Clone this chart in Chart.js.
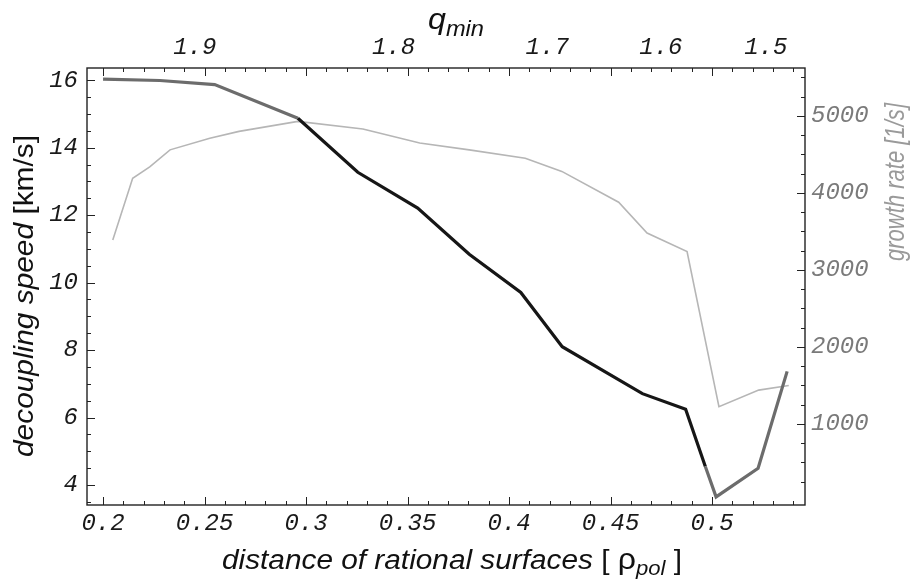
<!DOCTYPE html>
<html>
<head>
<meta charset="utf-8">
<script src="https://cdn.jsdelivr.net/npm/chart.js@4.4.0/dist/chart.umd.min.js"></script>
<style>
  body { margin: 0; background: #fff; }
  #wrap { width: 918px; height: 582px; position: relative; }
</style>
</head>
<body>
<div id="wrap"><canvas id="decouplingChart"></canvas></div>
<script>
// Data
const speedDistance = [0.2, 0.228, 0.255, 0.296, 0.3255, 0.355, 0.3804, 0.4058, 0.4262, 0.4657, 0.487, 0.4967, 0.502, 0.5227, 0.537];
const speedValues = [16.03, 15.99, 15.87, 14.87, 13.27, 12.21, 10.84, 9.71, 8.1, 6.71, 6.25, 4.55, 3.65, 4.5, 7.37];

const growthDistance = [0.2048, 0.2146, 0.223, 0.233, 0.2526, 0.267, 0.296, 0.328, 0.356, 0.3804, 0.408, 0.426, 0.454, 0.468, 0.4877, 0.5034, 0.523, 0.5378];
const growthValues = [3390, 4190, 4340, 4560, 4710, 4800, 4930, 4830, 4650, 4560, 4450, 4280, 3880, 3480, 3240, 1225, 1440, 1500];

const xTickValues = [0.2, 0.25, 0.3, 0.35, 0.4, 0.45, 0.5];
const xTickLabels = ['0.2', '0.25', '0.3', '0.35', '0.4', '0.45', '0.5'];
const speedTicks = [4, 6, 8, 10, 12, 14, 16];
const growthTicks = [1000, 2000, 3000, 4000, 5000];
const qTickPositions = [0.2452, 0.3431, 0.4188, 0.4748, 0.5265];
const qTickLabels = ['1.9', '1.8', '1.7', '1.6', '1.5'];

const tickFont = { family: "'Liberation Mono', 'DejaVu Sans Mono', monospace", size: 24, style: 'italic' };
const sansFamily = "'Liberation Sans', Arial, sans-serif";

// draw a row of text pieces, squeezed to a target width
function drawParts(ctx, parts, cx, cy, targetWidth, rotate) {
    ctx.save();
    let total = 0;
    parts.forEach(p => {
        ctx.font = p.font;
        p.w = ctx.measureText(p.text).width;
        total += p.w;
    });
    ctx.translate(cx, cy);
    if (rotate) ctx.rotate(-Math.PI / 2);
    ctx.scale(targetWidth / total, 1);
    ctx.textBaseline = 'alphabetic';
    ctx.textAlign = 'left';
    let x = -total / 2;
    parts.forEach(p => {
        ctx.font = p.font;
        ctx.fillStyle = p.color;
        ctx.fillText(p.text, x, p.dy || 0);
        x += p.w;
    });
    ctx.restore();
}

const frameTicks = {
    id: 'frameTicks',
    afterDatasetsDraw(chart) {
        const ctx = chart.ctx;
        const a = chart.chartArea;
        const sx = chart.scales.x, sy = chart.scales.y, sy2 = chart.scales.y2;
        ctx.save();
        ctx.strokeStyle = '#222';
        ctx.lineWidth = 1;
        ctx.beginPath();
        // bottom + top frame ticks
        for (let i = 0; i <= 34; i++) {
            const v = 0.2 + i * 0.01;
            if (v > sx.max) break;
            const len = i % 5 === 0 ? 8 : 4;
            const px = Math.round(sx.getPixelForValue(v)) + 0.5;
            ctx.moveTo(px, a.bottom); ctx.lineTo(px, a.bottom - len);
            ctx.moveTo(px, a.top); ctx.lineTo(px, a.top + len);
        }
        // left ticks
        for (let v = 3.5; v <= 16.01; v += 0.5) {
            const len = Math.abs(v % 2) < 0.01 ? 8 : 4;
            const py = Math.round(sy.getPixelForValue(v)) + 0.5;
            ctx.moveTo(a.left, py); ctx.lineTo(a.left + len, py);
        }
        // right ticks
        for (let v = 250; v <= 5500; v += 250) {
            const len = v % 1000 === 0 ? 8 : 4;
            const py = Math.round(sy2.getPixelForValue(v)) + 0.5;
            ctx.moveTo(a.right, py); ctx.lineTo(a.right - len, py);
        }
        ctx.stroke();
        ctx.lineWidth = 1.4;
        ctx.strokeRect(a.left, a.top, a.right - a.left, a.bottom - a.top);
        ctx.restore();
    },
    afterDraw(chart) {
        const ctx = chart.ctx;
        const it = 'italic 27px ' + sansFamily;
        const up = '27px ' + sansFamily;
        drawParts(ctx, [
            { text: 'decoupling speed ', font: it, color: '#111' },
            { text: '[km/s]', font: up, color: '#111' }
        ], 33, 296, 322, true);
        drawParts(ctx, [
            { text: 'growth rate [1/s]', font: it, color: '#9a9a9a' }
        ], 904, 182, 158, true);
        drawParts(ctx, [
            { text: 'distance of rational surfaces ', font: it, color: '#111' },
            { text: '[ ', font: up, color: '#111' },
            { text: 'ρ', font: '29px ' + sansFamily, color: '#111' },
            { text: 'pol', font: 'italic 20px ' + sansFamily, color: '#111', dy: 6 },
            { text: ' ]', font: up, color: '#111' }
        ], 452, 569, 460, false);
        drawParts(ctx, [
            { text: 'q', font: 'italic 30px ' + sansFamily, color: '#111' },
            { text: 'min', font: 'italic 22px ' + sansFamily, color: '#111', dy: 7 }
        ], 456, 29, 56, false);
    }
};

document.addEventListener('DOMContentLoaded', function() {
    initializeChart();
});

function initializeChart() {
    const ctx = document.getElementById('decouplingChart').getContext('2d');
    const xMin = 0.1921, xMax = 0.5458;

    new Chart(ctx, {
        type: 'line',
        data: {
            datasets: [{
                label: 'decoupling speed',
                data: speedDistance.map((x, i) => ({ x: x, y: speedValues[i] })),
                xAxisID: 'x',
                yAxisID: 'y',
                borderColor: '#161616',
                borderWidth: 3.2,
                pointRadius: 0,
                tension: 0,
                segment: {
                    // grey at both ends, black in the middle
                    borderColor: c => (c.p0.parsed.x < 0.29 || c.p0.parsed.x > 0.49) ? '#6c6c6c' : '#161616'
                }
            }, {
                label: 'growth rate',
                data: growthDistance.map((x, i) => ({ x: x, y: growthValues[i] })),
                xAxisID: 'x',
                yAxisID: 'y2',
                borderColor: '#b6b6b6',
                borderWidth: 1.6,
                pointRadius: 0,
                tension: 0
            }]
        },
        options: {
            responsive: true,
            maintainAspectRatio: false,
            animation: false,
            devicePixelRatio: 1,
            layout: { padding: 0 },
            plugins: {
                legend: { display: false },
                tooltip: { enabled: false }
            },
            scales: {
                x: {
                    type: 'linear',
                    position: 'bottom',
                    min: xMin,
                    max: xMax,
                    afterFit: s => { s.height = 77; },
                    afterBuildTicks: s => { s.ticks = xTickValues.map(v => ({ value: v })); },
                    grid: { display: false, drawTicks: false },
                    border: { display: false },
                    ticks: {
                        font: tickFont, color: '#1a1a1a', padding: 4,
                        maxRotation: 0, autoSkip: false,
                        callback: (v, i) => xTickLabels[i]
                    }
                },
                x2: {
                    type: 'linear',
                    position: 'top',
                    min: xMin,
                    max: xMax,
                    afterFit: s => { s.height = 68; },
                    afterBuildTicks: s => { s.ticks = qTickPositions.map(v => ({ value: v })); },
                    grid: { display: false, drawTicks: false },
                    border: { display: false },
                    ticks: {
                        font: tickFont, color: '#1a1a1a', padding: 6,
                        maxRotation: 0, autoSkip: false,
                        callback: (v, i) => qTickLabels[i]
                    }
                },
                y: {
                    type: 'linear',
                    position: 'left',
                    min: 3.41,
                    max: 16.36,
                    afterFit: s => { s.width = 87; },
                    afterBuildTicks: s => { s.ticks = speedTicks.map(v => ({ value: v })); },
                    grid: { display: false, drawTicks: false },
                    border: { display: false },
                    ticks: { font: tickFont, color: '#1a1a1a', padding: 9, autoSkip: false, callback: v => String(v) }
                },
                y2: {
                    type: 'linear',
                    position: 'right',
                    min: -52,
                    max: 5623,
                    afterFit: s => { s.width = 113; },
                    afterBuildTicks: s => { s.ticks = growthTicks.map(v => ({ value: v })); },
                    grid: { display: false, drawTicks: false },
                    border: { display: false },
                    ticks: { font: tickFont, color: '#7a7a7a', padding: 6, autoSkip: false, callback: v => String(v) }
                }
            }
        },
        plugins: [frameTicks]
    });
}
</script>
</body>
</html>
